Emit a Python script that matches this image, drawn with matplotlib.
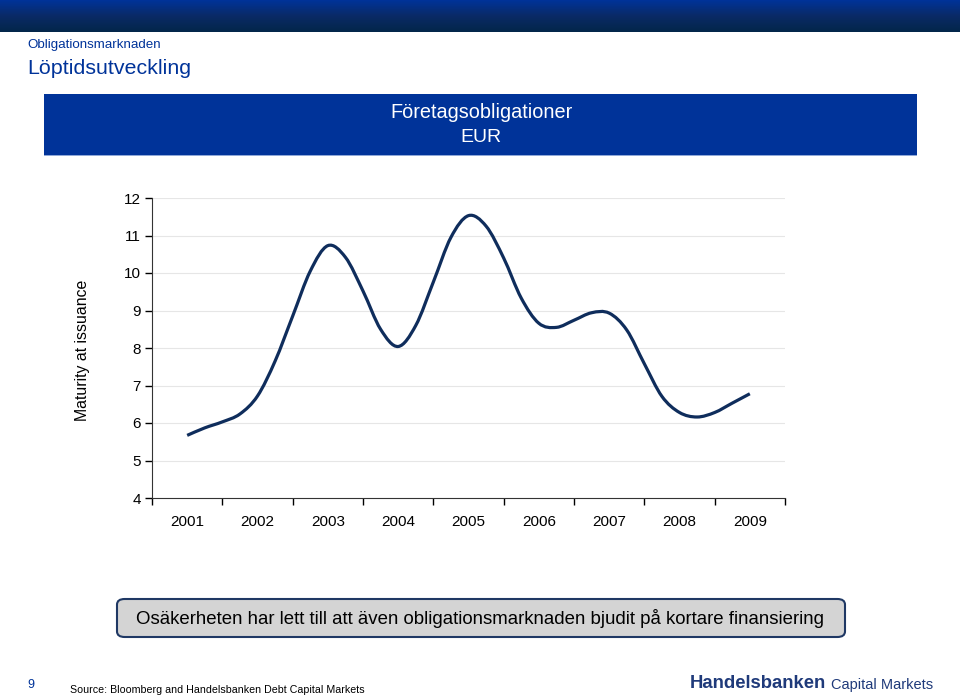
import numpy as np
import matplotlib
matplotlib.use("Agg")
import matplotlib.pyplot as plt
from matplotlib.path import Path
from matplotlib.patches import PathPatch, FancyBboxPatch, Rectangle
from matplotlib.colors import LinearSegmentedColormap

plt.rcParams['font.family'] = ['Liberation Sans', 'DejaVu Sans']

# ---- data ----
years = ['2001', '2002', '2003', '2004', '2005', '2006', '2007', '2008', '2009']
# quarterly observations, first = mid 2001, last = mid 2009
maturity = [5.67, 5.87, 6.03, 6.24, 6.72, 7.65, 8.85, 10.05, 10.73,
            10.42, 9.52, 8.50, 8.04, 8.60, 9.76, 10.95, 11.53, 11.25,
            10.40, 9.33, 8.66, 8.55, 8.74, 8.94, 8.93, 8.48, 7.58,
            6.71, 6.28, 6.16, 6.28, 6.53, 6.78]
y_ticks = [4, 5, 6, 7, 8, 9, 10, 11, 12]

NAVY = '#003399'
LINE = '#0f2d5c'

fig = plt.figure(figsize=(9.6, 7.0), dpi=100)

# top banner gradient
bax = fig.add_axes([0, 1 - 32/700, 1, 32/700])
grad = np.linspace(0, 1, 64).reshape(-1, 1)
cmap = LinearSegmentedColormap.from_list('band', ['#003399', '#0a2a66', '#03264a'])
bax.imshow(grad, aspect='auto', cmap=cmap, extent=[0, 1, 0, 1])
bax.set_axis_off()

fig.text(27/960, 1 - 45/700, 'Obligationsmarknaden', color=NAVY, fontsize=9.6,
         va='center', ha='left')
fig.text(27/960, 1 - 68/700, 'Löptidsutveckling', color=NAVY, fontsize=15.4,
         va='center', ha='left')

# chart header box
fig.patches.append(Rectangle((44/960, 1 - 155/700), (917-44)/960, 61/700,
                             transform=fig.transFigure, facecolor=NAVY,
                             edgecolor='none'))
fig.patches.append(Rectangle((44/960, 1 - 156/700), (917-44)/960, 1.5/700,
                             transform=fig.transFigure, facecolor='#8fa8d8',
                             edgecolor='none'))
fig.text(481/960, 1 - 113/700, 'Företagsobligationer', color='white',
         fontsize=14.3, ha='center', va='center')
fig.text(481/960, 1 - 137/700, 'EUR', color='white', fontsize=14,
         ha='center', va='center')

# main axes
ax = fig.add_axes([152/960, 1 - 498/700, (785-152)/960, 300/700])
n = len(maturity)
xs = np.array([i * (len(years) - 1) / (n - 1) for i in range(n)])
ys = np.array(maturity)

# smoothed line (Bezier segments through the data points)
verts = [(xs[0], ys[0])]
codes = [Path.MOVETO]
for i in range(n - 1):
    p0 = np.array([xs[max(i-1, 0)], ys[max(i-1, 0)]])
    p1 = np.array([xs[i], ys[i]])
    p2 = np.array([xs[i+1], ys[i+1]])
    p3 = np.array([xs[min(i+2, n-1)], ys[min(i+2, n-1)]])
    c1 = p1 + (p2 - p0) / 6.0
    c2 = p2 - (p3 - p1) / 6.0
    verts += [tuple(c1), tuple(c2), tuple(p2)]
    codes += [Path.CURVE4] * 3
ax.add_patch(PathPatch(Path(verts, codes), facecolor='none', edgecolor=LINE,
                       lw=2.3, capstyle='butt', joinstyle='round', zorder=3))

ax.set_xlim(-0.5, len(years) - 0.5)
ax.set_ylim(4, 12)
ax.set_yticks(y_ticks)
ax.set_yticklabels([str(v) for v in y_ticks], fontsize=11)
for v in y_ticks[1:]:
    ax.axhline(v, color='#e6e6e6', lw=0.8, zorder=1)
ax.set_xticks(range(len(years)))
ax.set_xticklabels(years, fontsize=11)
ax.tick_params(axis='x', length=0, pad=12)
ax.set_xticks(np.arange(-0.5, len(years), 1.0), minor=True)
ax.tick_params(axis='x', which='minor', length=5, width=1, direction='out')
ax.tick_params(axis='y', length=5, width=1, direction='out', pad=3)
for s in ['top', 'right']:
    ax.spines[s].set_visible(False)
ax.spines['left'].set_color('#333333')
ax.spines['bottom'].set_color('#333333')
ax.set_facecolor('white')

fig.text(83/960, 1 - 350/700, 'Maturity at issuance', rotation=90,
         fontsize=11.4, ha='center', va='center')

# callout box
fig.patches.append(FancyBboxPatch((117/960, 1 - 637/700), (845-117)/960, 38/700,
                                  boxstyle='round,pad=0,rounding_size=0.008',
                                  transform=fig.transFigure,
                                  facecolor='#d4d4d4', edgecolor='#1f3864', lw=1.5))
fig.text(480/960, 1 - 618/700,
         'Osäkerheten har lett till att även obligationsmarknaden bjudit på kortare finansiering',
         fontsize=13.4, ha='center', va='center', color='black')

# footer
fig.text(31/960, 1 - 685/700, '9', fontsize=9, color=NAVY, ha='center', va='center')
fig.text(70/960, 1 - 690/700, 'Source: Bloomberg and Handelsbanken Debt Capital Markets',
         fontsize=7.7, ha='left', va='center')
fig.text(690/960, 1 - 684/700, 'Handelsbanken', fontsize=13.3, fontweight='bold',
         color='#1f3a7a', ha='left', va='center')
fig.text(831/960, 1 - 685/700, 'Capital Markets', fontsize=10.5,
         color='#1f3a7a', ha='left', va='center')

fig.savefig('out.png', dpi=100)
